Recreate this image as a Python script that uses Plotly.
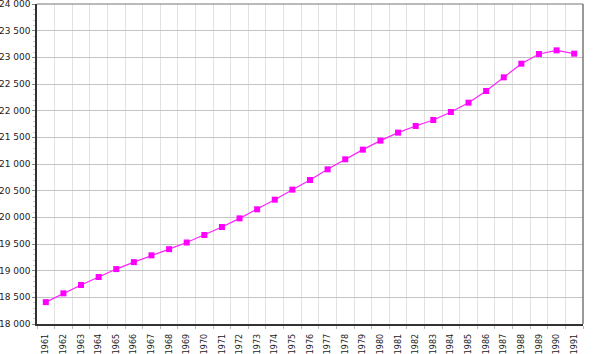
import plotly.graph_objects as go

years = list(range(1961, 1992))
population = [18410, 18575, 18731, 18881, 19030, 19160, 19288, 19403, 19528, 19669,
              19819, 19981, 20150, 20331, 20519, 20700, 20900, 21088, 21269, 21438,
              21588, 21713, 21825, 21975, 22150, 22369, 22625, 22881, 23063, 23131,
              23069]
y_ticks = list(range(18000, 24001, 500))

fig = go.Figure()
fig.add_trace(go.Scatter(
    x=years, y=population, mode="lines+markers",
    line=dict(color="#ff22ff", width=1.2),
    marker=dict(symbol="square", size=6, color="#ff00ff"),
    hoverinfo="x+y",
))

fig.update_layout(
    width=600, height=354,
    margin=dict(l=37, r=17, t=4, b=30),
    paper_bgcolor="white", plot_bgcolor="white",
    showlegend=False,
    font=dict(family="DejaVu Sans", color="#222"),
)
fig.update_xaxes(
    range=[1960.5, 1991.5], automargin=False,
    tickmode="array", tickvals=years, ticktext=[str(y) for y in years],
    tickangle=-90, tickfont=dict(size=8),
    showgrid=False, ticks="outside", ticklen=5, tickcolor="rgba(0,0,0,0)",
    minor=dict(tick0=1960.5, dtick=1, showgrid=True, gridcolor="#e2e2e2", gridwidth=1,
               ticks="outside", ticklen=3, tickcolor="#bbb"),
    showline=True, linecolor="#333", linewidth=1.5, mirror=False,
    zeroline=False,
)
fig.update_yaxes(
    range=[18000, 24000], automargin=False,
    tickmode="array", tickvals=y_ticks, ticktext=[f"{v // 1000} {v % 1000:03d}" for v in y_ticks],
    tickfont=dict(size=9), ticklabeloverflow="allow",
    showgrid=True, gridcolor="#c4c4c4", gridwidth=1,
    ticks="outside", ticklen=3, tickcolor="#888",
    minor=dict(dtick=100, ticks="outside", ticklen=2, tickcolor="#ccc", showgrid=False),
    showline=True, linecolor="#333", linewidth=1.5,
    zeroline=False,
)
# top/right frame
fig.add_shape(type="line", xref="paper", yref="paper", x0=0, y0=1, x1=1, y1=1,
              line=dict(color="#777", width=1.2), layer="above")
fig.add_shape(type="line", xref="paper", yref="paper", x0=1, y0=0, x1=1, y1=1,
              line=dict(color="#555", width=1.2), layer="above")

fig.write_html("out.html")
